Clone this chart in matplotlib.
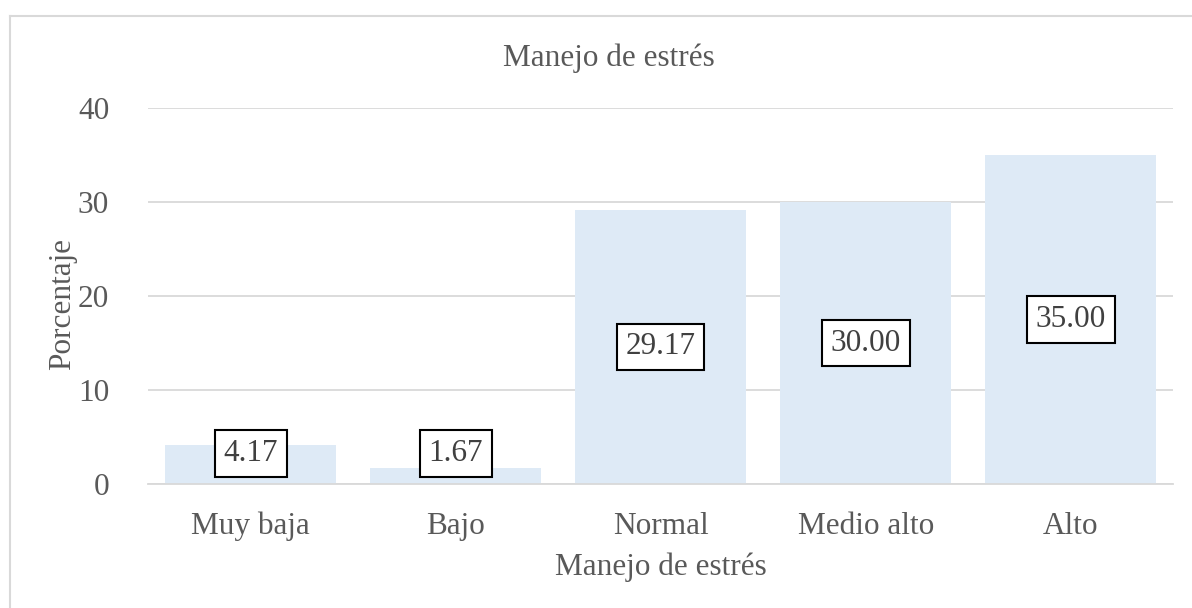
import matplotlib
matplotlib.use("Agg")
import matplotlib.pyplot as plt

categories = ["Muy baja", "Bajo", "Normal", "Medio alto", "Alto"]
values = [4.17, 1.67, 29.17, 30.00, 35.00]
yticks = [0, 10, 20, 30, 40]
title = "Manejo de estrés"
xlabel = "Manejo de estrés"
ylabel = "Porcentaje"

plt.rcParams['font.family'] = ['Liberation Serif', 'DejaVu Serif']
text_color = "#595959"
fs = 22.5

fig = plt.figure(figsize=(11.92, 6.08), dpi=100)
ax = fig.add_axes([0.1242, 0.2039, 0.86, 0.6184])

x = list(range(len(categories)))
ax.bar(x, values, width=0.834, color="#DEEAF6", zorder=2)
ax.set_xlim(-0.5, len(categories) - 0.5)
ax.set_ylim(0, 40)
ax.set_yticks(yticks)
ax.set_xticks(x)
ax.set_xticklabels(categories)
ax.tick_params(axis='both', length=0, labelsize=fs, labelcolor=text_color)
ax.tick_params(axis='x', pad=20)
ax.tick_params(axis='y', pad=28)
ax.grid(axis='y', color="#D9D9D9", linewidth=1.3, zorder=0)
for s in ['top', 'right', 'left']:
    ax.spines[s].set_visible(False)
ax.spines['bottom'].set_color("#D9D9D9")
ax.spines['bottom'].set_linewidth(1.3)

for xi, v in zip(x, values):
    ax.text(xi, max(v / 2, 3.25), f"{v:.2f}", ha='center', va='center',
            fontsize=fs, color="#404040", zorder=3,
            bbox=dict(boxstyle='square,pad=0.28', facecolor='white',
                      edgecolor='black', linewidth=1.5))

ax.set_xlabel(xlabel, fontsize=fs, color=text_color, va='center')
ax.xaxis.set_label_coords(0.5, -0.2207)
ax.set_ylabel(ylabel, fontsize=fs, color=text_color, va='center')
ax.yaxis.set_label_coords(-0.083, 0.479)
fig.text(0.5105, 0.904, title, ha='center', va='center', fontsize=fs, color=text_color)

# chart frame (left and top edges visible)
fig.add_artist(plt.Line2D([10/1192, 10/1192], [0, 1 - 16/608], transform=fig.transFigure,
                          color="#D9D9D9", linewidth=1.5))
fig.add_artist(plt.Line2D([10/1192, 1], [1 - 16/608, 1 - 16/608], transform=fig.transFigure,
                          color="#D9D9D9", linewidth=1.5))

fig.savefig("out.png", dpi=100)
